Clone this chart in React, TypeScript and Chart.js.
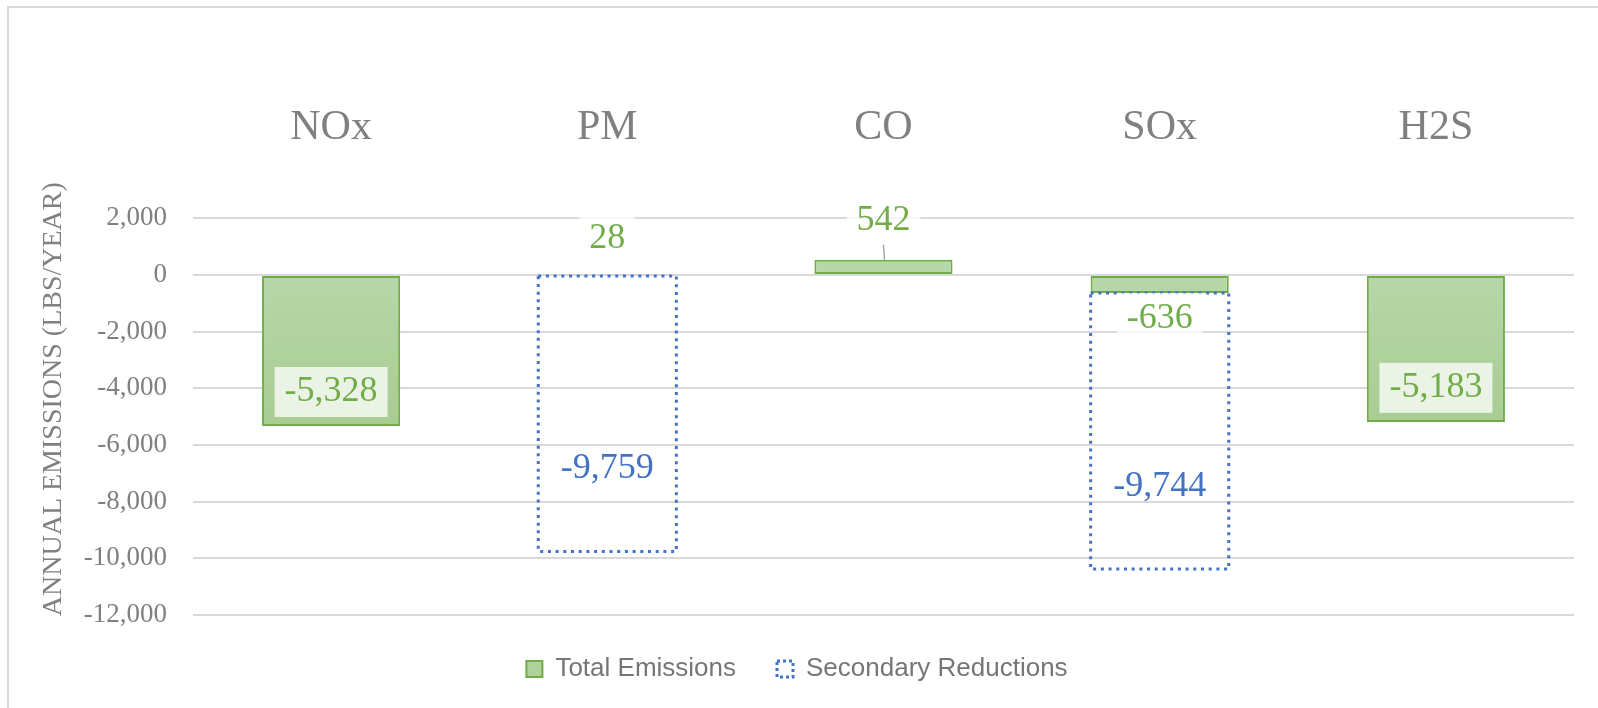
import React, { useEffect, useRef } from 'react';
import { Chart, registerables } from 'chart.js';

Chart.register(...registerables);

// ---- data ----
const categories: string[] = ['NOx', 'PM', 'CO', 'SOx', 'H2S'];
const totalEmissions: number[] = [-5328, 28, 542, -636, -5183];
const secondaryReductions: (number | null)[] = [null, -9759, null, -9744, null];
const yMin = -12000;
const yMax = 2000;
const yStep = 2000;
const yTitle = 'ANNUAL EMISSIONS (LBS/YEAR)';
const seriesNames = ['Total Emissions', 'Secondary Reductions'];
// where each Total Emissions label sits relative to its bar
const totalLabelPlacement: string[] = ['inside', 'above', 'callout', 'below', 'inside'];

// ---- style ----
const SERIF = '"Liberation Serif", "Times New Roman", serif';
const SANS = '"Liberation Sans", Arial, sans-serif';
const GREEN = '#70ad47';
const GREEN_FILL = '#afd19c';
const BLUE = '#4472c4';
const GRAY_TEXT = '#808080';
const LEGEND_TEXT = '#767676';
const GRID = '#d9d9d9';

const fmt = (v: number) => Number(v).toLocaleString('en-US');

const labelPlugin = {
  id: 'labelsAndDots',
  afterDatasetsDraw(chart: any) {
    const ctx = chart.ctx as CanvasRenderingContext2D;
    ctx.save();

    // dotted outline for Secondary Reductions bars
    const metaSec = chart.getDatasetMeta(1);
    metaSec.data.forEach((el: any, i: number) => {
      if (secondaryReductions[i] == null) return;
      const left = el.x - el.width / 2;
      const top = Math.min(el.y, el.base);
      const h = Math.abs(el.y - el.base);
      ctx.setLineDash([3, 4.7]);
      ctx.lineCap = 'butt';
      ctx.lineWidth = 3;
      ctx.strokeStyle = BLUE;
      ctx.strokeRect(left, top, el.width, h);
    });
    ctx.setLineDash([]);

    ctx.font = `36px ${SERIF}`;
    ctx.textAlign = 'center';
    ctx.textBaseline = 'middle';

    // Total Emissions labels
    const metaTot = chart.getDatasetMeta(0);
    metaTot.data.forEach((el: any, i: number) => {
      const v = totalEmissions[i];
      const place = totalLabelPlacement[i];
      let cy: number;
      if (place === 'inside') cy = el.y - 34;
      else if (place === 'above') cy = el.y - 36;
      else if (place === 'callout') cy = el.y - 39;
      else cy = el.y + 25;
      const text = fmt(v);
      const tw = ctx.measureText(text).width;
      const bw = tw + 20;
      const bh = 50;
      ctx.fillStyle = 'rgba(255,255,255,0.75)';
      ctx.fillRect(el.x - bw / 2, cy - bh / 2, bw, bh);
      if (place === 'callout') {
        ctx.strokeStyle = '#a6a6a6';
        ctx.lineWidth = 1.5;
        ctx.beginPath();
        ctx.moveTo(el.x, cy + bh / 2 - 1);
        ctx.lineTo(el.x + 1, el.y);
        ctx.stroke();
      }
      ctx.fillStyle = GREEN;
      ctx.fillText(text, el.x, cy);
    });

    // Secondary Reductions labels
    metaSec.data.forEach((el: any, i: number) => {
      const v = secondaryReductions[i];
      if (v == null) return;
      const cy = el.base + 0.7 * (el.y - el.base);
      ctx.fillStyle = BLUE;
      ctx.fillText(fmt(v), el.x, cy);
    });

    ctx.restore();
  },
};

export default function App() {
  const ref = useRef<HTMLCanvasElement>(null);

  useEffect(() => {
    if (!ref.current) return;
    const chart = new Chart(ref.current, {
      type: 'bar',
      data: {
        labels: categories,
        datasets: [
          {
            label: seriesNames[0],
            data: totalEmissions,
            backgroundColor: (c: any) => {
              const y = c.chart.scales && c.chart.scales.y;
              if (!y || y.top === undefined || !isFinite(y.getPixelForValue(0))) return GREEN_FILL;
              const g = c.chart.ctx.createLinearGradient(0, y.getPixelForValue(0), 0, y.getPixelForValue(-6000));
              g.addColorStop(0, '#b7d7a8');
              g.addColorStop(1, '#a6cb8f');
              return g;
            },
            borderColor: GREEN,
            borderWidth: 2,
            borderSkipped: false,
            categoryPercentage: 0.5,
            barPercentage: 1,
          },
          {
            label: seriesNames[1],
            data: secondaryReductions,
            backgroundColor: 'rgba(0,0,0,0)',
            borderWidth: 0,
            categoryPercentage: 0.5,
            barPercentage: 1,
          },
        ],
      },
      options: {
        responsive: false,
        devicePixelRatio: 1,
        animation: false,
        layout: { padding: { left: 20, right: 24, top: 38, bottom: 16 } },
        scales: {
          x: {
            position: 'top',
            stacked: true,
            offset: true,
            grid: { display: false, drawTicks: false },
            border: { display: false },
            ticks: {
              color: GRAY_TEXT,
              font: { family: SERIF, size: 42 },
              padding: 65,
            },
          },
          y: {
            stacked: true,
            min: yMin,
            max: yMax,
            afterFit: (scale: any) => {
              scale.width = 173;
            },
            grid: { color: GRID, lineWidth: 2, drawTicks: false },
            border: { display: false },
            ticks: {
              stepSize: yStep,
              color: GRAY_TEXT,
              font: { family: SERIF, size: 27 },
              padding: 26,
              callback: (v: any) => fmt(Number(v)),
            },
            title: {
              display: true,
              text: '\u00a0\u00a0\u00a0\u00a0\u00a0' + yTitle,
              color: GRAY_TEXT,
              font: { family: SERIF, size: 28 },
              padding: { top: 17, bottom: 0 },
            },
          },
        },
        plugins: {
          tooltip: { enabled: false },
          legend: {
            position: 'bottom',
            labels: {
              font: { family: SANS, size: 26 },
              color: LEGEND_TEXT,
              boxWidth: 16,
              boxHeight: 16,
              padding: 41,
              generateLabels: () => [
                {
                  text: seriesNames[0],
                  fillStyle: GREEN_FILL,
                  strokeStyle: GREEN,
                  fontColor: LEGEND_TEXT,
                  lineWidth: 2,
                  hidden: false,
                  datasetIndex: 0,
                },
                {
                  text: seriesNames[1],
                  fillStyle: 'rgba(255,255,255,0)',
                  strokeStyle: BLUE,
                  fontColor: LEGEND_TEXT,
                  lineWidth: 3,
                  lineDash: [3, 3],
                  hidden: false,
                  datasetIndex: 1,
                },
              ],
            },
          },
        },
      },
      plugins: [labelPlugin],
    } as any);
    return () => chart.destroy();
  }, []);

  return (
    <div
      style={{
        position: 'fixed',
        left: 0,
        top: 0,
        width: 1598,
        height: 708,
        overflow: 'hidden',
        background: '#ffffff',
      }}
    >
      <div
        style={{
          position: 'absolute',
          left: 7,
          top: 6,
          width: 1700,
          height: 800,
          borderLeft: `2px solid ${GRID}`,
          borderTop: `2px solid ${GRID}`,
        }}
      />
      <canvas
        ref={ref}
        width={1598}
        height={708}
        style={{ position: 'absolute', left: 0, top: 0, width: 1598, height: 708 }}
      />
    </div>
  );
}
